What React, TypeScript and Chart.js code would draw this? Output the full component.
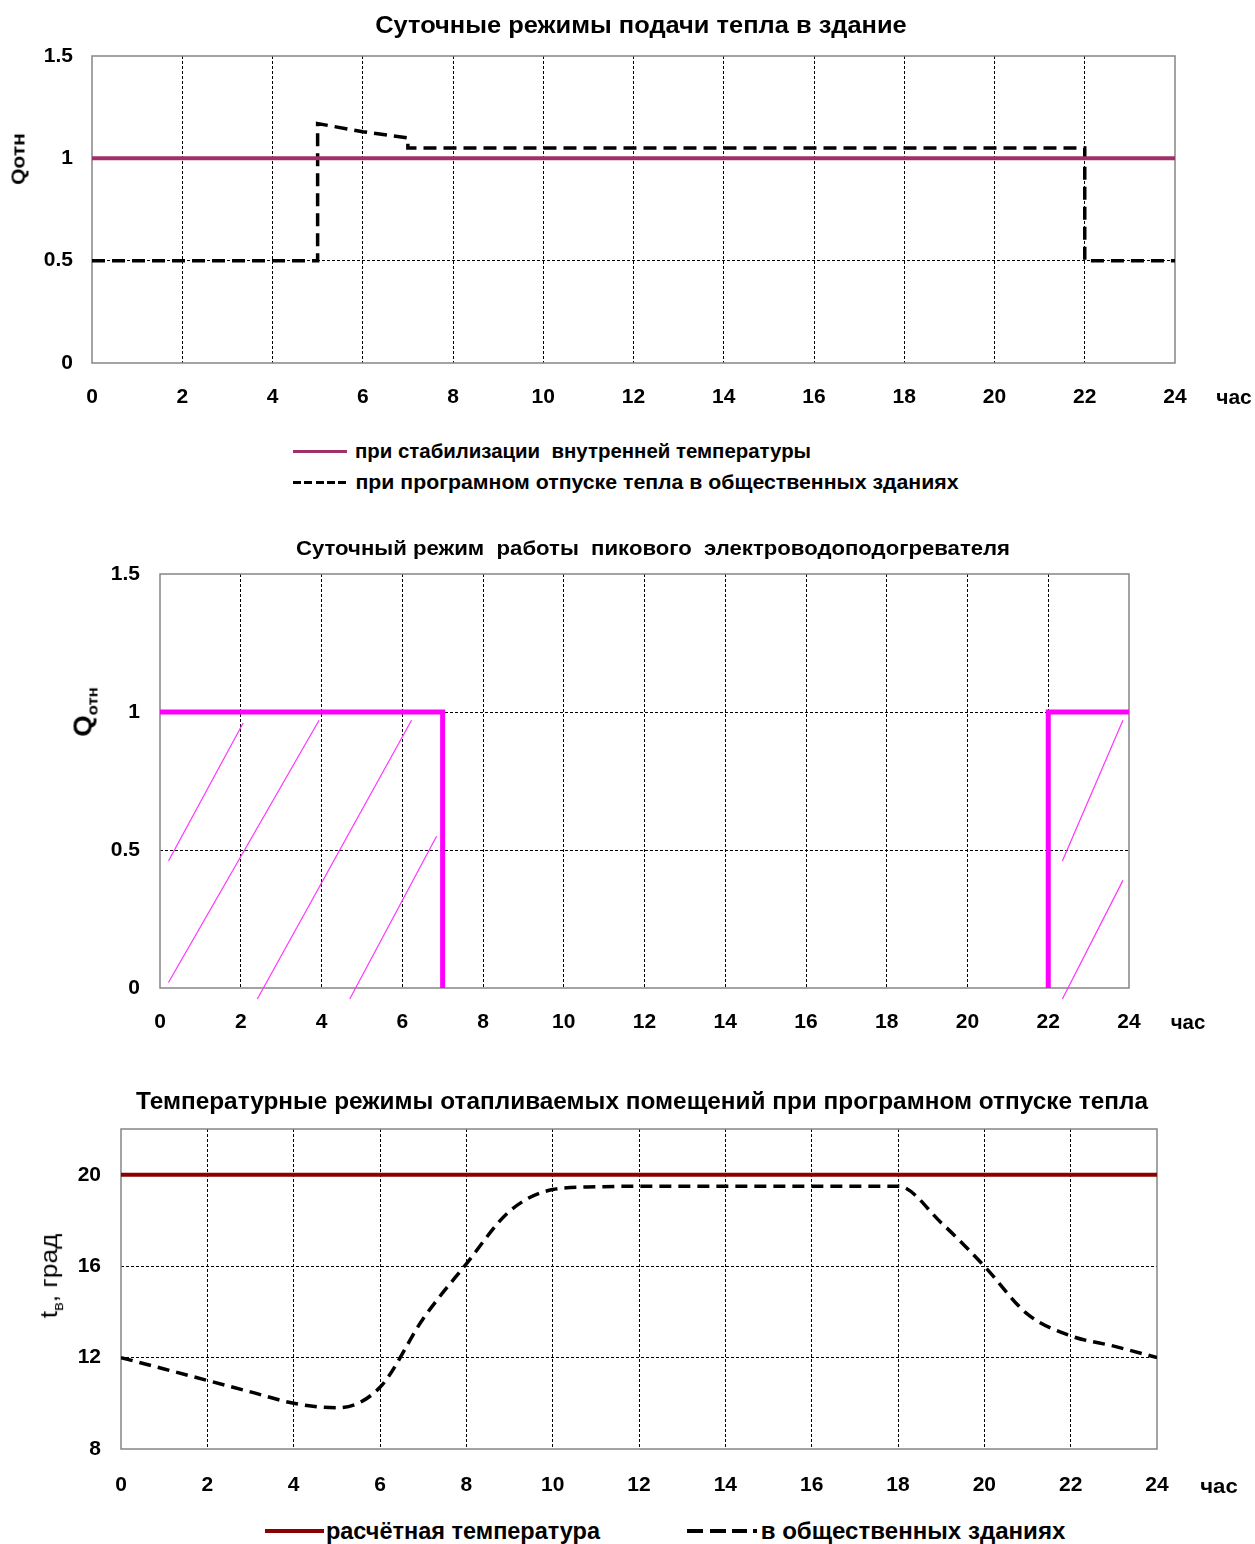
import React, { useEffect, useLayoutEffect, useRef } from 'react';
import { Chart, registerables } from 'chart.js';

Chart.register(...registerables);

const FONT = '"Liberation Sans", Arial, sans-serif';

// ---------- Chart 1: daily heat supply ----------
const hourTicks = [0, 2, 4, 6, 8, 10, 12, 14, 16, 18, 20, 22, 24];
const q1Ticks = [0, 0.5, 1, 1.5];
const stabHours = [0, 24];
const stabValues = [1, 1];
const programHours = [0, 5, 5, 6, 7, 7, 22, 22, 24];
const programValues = [0.5, 0.5, 1.17, 1.13, 1.1, 1.05, 1.05, 0.5, 0.5];

// ---------- Chart 2: peak electric heater ----------
const q2Ticks = [0, 0.5, 1, 1.5];
const peakMorningHours = [0, 7, 7];
const peakMorningValues = [1, 1, 0];
const peakEveningHours = [22, 22, 24];
const peakEveningValues = [0, 1, 1];
const hatchStartX = [0.21, 0.21, 2.41, 4.7, 22.35, 22.35];
const hatchStartY = [0.46, 0.02, -0.04, -0.04, 0.46, -0.04];
const hatchEndX = [2.06, 3.94, 6.23, 6.85, 23.85, 23.85];
const hatchEndY = [0.96, 0.97, 0.97, 0.55, 0.97, 0.39];

// ---------- Chart 3: room temperature ----------
const tTicks = [8, 12, 16, 20];
const tempHours = [0, 1, 2, 3, 4, 5, 6, 7, 8, 9, 10, 11, 12, 13, 14, 15, 16, 17, 18, 19, 20, 21, 22, 23, 24];
const tempPublic = [12, 11.5, 11, 10.5, 10, 9.8, 10.7, 13.7, 16.1, 18.4, 19.35, 19.47, 19.5, 19.5, 19.5, 19.5, 19.5, 19.5, 19.5, 17.9, 16.0, 13.9, 12.95, 12.5, 12.0];
const designHours = [0, 24];
const designTemp = [20, 20];

const pts = (xs: number[], ys: number[]) => xs.map((x, i) => ({ x, y: ys[i] }));

const framePlugin = {
  id: 'frame',
  beforeDatasetsDraw(chart: any) {
    const { ctx, chartArea: a } = chart;
    ctx.save();
    ctx.setLineDash([]);
    ctx.strokeStyle = '#858585';
    ctx.lineWidth = 1.5;
    ctx.strokeRect(a.left, a.top, a.right - a.left, a.bottom - a.top);
    ctx.restore();
  },
};

type Plot = { left: number; right: number; top: number; bottom: number };

function makeConfig(
  datasets: any[],
  plot: Plot,
  canvasTop: number,
  canvasHeight: number,
  yMin: number,
  yMax: number,
  yTicks: number[],
  xPad: number,
  yPad: number
): any {
  const tickFont = { family: FONT, size: 21, weight: 'bold' as const };
  return {
    type: 'line',
    data: { datasets },
    plugins: [framePlugin],
    options: {
      responsive: false,
      maintainAspectRatio: false,
      animation: false,
      layout: {
        padding: { top: plot.top - canvasTop, right: 1255 - plot.right, bottom: 0, left: 0 },
      },
      plugins: { legend: { display: false }, tooltip: { enabled: false }, title: { display: false } },
      elements: { point: { radius: 0 } },
      scales: {
        x: {
          type: 'linear',
          min: 0,
          max: 24,
          afterBuildTicks: (s: any) => {
            s.ticks = hourTicks.map((v) => ({ value: v }));
          },
          afterFit: (s: any) => {
            s.height = canvasTop + canvasHeight - plot.bottom;
          },
          grid: {
            color: (c: any) =>
              c.tick && (c.tick.value === 0 || c.tick.value === 24) ? 'rgba(0,0,0,0)' : '#000',
            lineWidth: 1,
            drawTicks: false,
          },
          border: { display: false, dash: [3, 2] },
          ticks: {
            padding: xPad,
            font: tickFont,
            color: '#000',
            maxRotation: 0,
            autoSkip: false,
            callback: (v: any) => String(v),
          },
        },
        y: {
          type: 'linear',
          min: yMin,
          max: yMax,
          afterBuildTicks: (s: any) => {
            s.ticks = yTicks.map((v) => ({ value: v }));
          },
          afterFit: (s: any) => {
            s.width = plot.left;
          },
          grid: {
            color: (c: any) =>
              c.tick && (c.tick.value === yMin || c.tick.value === yMax) ? 'rgba(0,0,0,0)' : '#000',
            lineWidth: 1,
            drawTicks: false,
          },
          border: { display: false, dash: [3, 2] },
          ticks: {
            padding: yPad,
            font: tickFont,
            color: '#000',
            callback: (v: any) => String(v),
          },
        },
      },
    },
  };
}

function ChartCanvas({ top, height, config }: { top: number; height: number; config: any }) {
  const ref = useRef<HTMLCanvasElement>(null);
  useEffect(() => {
    const chart = new Chart(ref.current as HTMLCanvasElement, config);
    return () => chart.destroy();
  }, []);
  return (
    <canvas
      ref={ref}
      width={1255}
      height={height}
      style={{ position: 'absolute', left: 0, top, width: 1255, height }}
    />
  );
}

function Txt({
  cx,
  cy,
  w,
  size,
  weight = 'bold',
  rotate = 0,
  children,
}: {
  cx: number;
  cy: number;
  w: number;
  size: number;
  weight?: string;
  rotate?: number;
  children: any;
}) {
  const ref = useRef<HTMLDivElement>(null);
  useLayoutEffect(() => {
    const el = ref.current;
    if (!el) return;
    const s = w / el.offsetWidth;
    el.style.transform = `rotate(${rotate}deg) scaleX(${s}) translate(-50%, -50%)`;
  }, [w, rotate]);
  return (
    <div
      ref={ref}
      style={{
        position: 'absolute',
        left: cx,
        top: cy,
        fontFamily: FONT,
        fontSize: size,
        fontWeight: weight as any,
        whiteSpace: 'nowrap',
        lineHeight: 1,
        color: '#000',
        transformOrigin: '0 0',
        transform: `rotate(${rotate}deg) translate(-50%, -50%)`,
      }}
    >
      {children}
    </div>
  );
}

function Bar({ x, y, w, h, color }: { x: number; y: number; w: number; h: number; color: string }) {
  return <div style={{ position: 'absolute', left: x, top: y - h / 2, width: w, height: h, background: color }} />;
}

const plot1: Plot = { left: 92, right: 1175, top: 56, bottom: 363 };
const plot2: Plot = { left: 160, right: 1129, top: 574, bottom: 988 };
const plot3: Plot = { left: 121, right: 1157, top: 1129, bottom: 1449 };

const config1 = makeConfig(
  [
    { data: pts(stabHours, stabValues), borderColor: '#a0306a', borderWidth: 4, fill: false },
    { data: pts(programHours, programValues), borderColor: '#000', borderWidth: 3.5, borderDash: [13, 7], fill: false },
  ],
  plot1,
  0,
  430,
  0,
  1.5,
  q1Ticks,
  22,
  19
);

const hatchSets = hatchStartX.map((x0, i) => ({
  data: [
    { x: x0, y: hatchStartY[i] },
    { x: hatchEndX[i], y: hatchEndY[i] },
  ],
  borderColor: '#ff33ff',
  borderWidth: 1.2,
  clip: false,
  fill: false,
}));

const config2 = makeConfig(
  [
    { data: pts(peakMorningHours, peakMorningValues), borderColor: '#ff00ff', borderWidth: 5, fill: false },
    { data: pts(peakEveningHours, peakEveningValues), borderColor: '#ff00ff', borderWidth: 5, fill: false },
    ...hatchSets,
  ],
  plot2,
  520,
  540,
  0,
  1.5,
  q2Ticks,
  22,
  20
);

const config3 = makeConfig(
  [
    { data: pts(designHours, designTemp), borderColor: '#8b0000', borderWidth: 4, fill: false },
    {
      data: pts(tempHours, tempPublic),
      borderColor: '#000',
      borderWidth: 3.5,
      borderDash: [12, 7],
      cubicInterpolationMode: 'monotone',
      fill: false,
    },
  ],
  plot3,
  1080,
  430,
  8,
  22,
  tTicks,
  24,
  20
);

export default function App() {
  return (
    <div
      style={{
        position: 'absolute',
        left: 0,
        top: 0,
        width: 1255,
        height: 1544,
        overflow: 'hidden',
        background: '#fff',
      }}
    >
      <ChartCanvas top={0} height={430} config={config1} />
      <ChartCanvas top={520} height={540} config={config2} />
      <ChartCanvas top={1080} height={430} config={config3} />

      {/* Chart 1 texts */}
      <Txt cx={640.5} cy={25} w={531} size={23}>Суточные режимы подачи тепла в здание</Txt>
      <Txt cx={18} cy={159} w={52} size={19} rotate={-90}>Qотн</Txt>
      <Txt cx={1234} cy={396} w={36} size={21}>час</Txt>
      <Bar x={293} y={451} w={54} h={3} color="#a0306a" />
      <Txt cx={583} cy={451} w={456} size={20}>при стабилизации&nbsp; внутренней температуры</Txt>
      {[0, 1, 2, 3, 4].map((i) => (
        <Bar key={i} x={293 + i * 11.25} y={482} w={8} h={3} color="#000" />
      ))}
      <Txt cx={656.5} cy={482} w={603} size={20}>при програмном отпуске тепла в общественных зданиях</Txt>

      {/* Chart 2 texts */}
      <Txt cx={653} cy={547} w={714} size={21}>Суточный режим&nbsp; работы&nbsp; пикового&nbsp; электроводоподогревателя</Txt>
      <Txt cx={85} cy={712} w={50} size={25} rotate={-90}>
        Q<sub style={{ fontSize: 15 }}>отн</sub>
      </Txt>
      <Txt cx={1187.5} cy={1021} w={35} size={21}>час</Txt>

      {/* Chart 3 texts */}
      <Txt cx={642} cy={1101} w={1012} size={23}>Температурные режимы отапливаемых помещений при програмном отпуске тепла</Txt>
      <Txt cx={51} cy={1276} w={84} size={24} weight="normal" rotate={-90}>
        t<sub style={{ fontSize: 15 }}>в</sub>, град
      </Txt>
      <Txt cx={1219} cy={1485} w={38} size={21}>час</Txt>
      <Bar x={265} y={1531} w={59} h={4} color="#8b0000" />
      <Txt cx={463} cy={1531} w={274} size={24}>расчётная температура</Txt>
      <Bar x={687} y={1531} w={16} h={4} color="#000" />
      <Bar x={710} y={1531} w={16} h={4} color="#000" />
      <Bar x={732} y={1531} w={15} h={4} color="#000" />
      <Bar x={753} y={1531} w={4} h={4} color="#000" />
      <Txt cx={912.5} cy={1531} w={305} size={24}>в общественных зданиях</Txt>
    </div>
  );
}
